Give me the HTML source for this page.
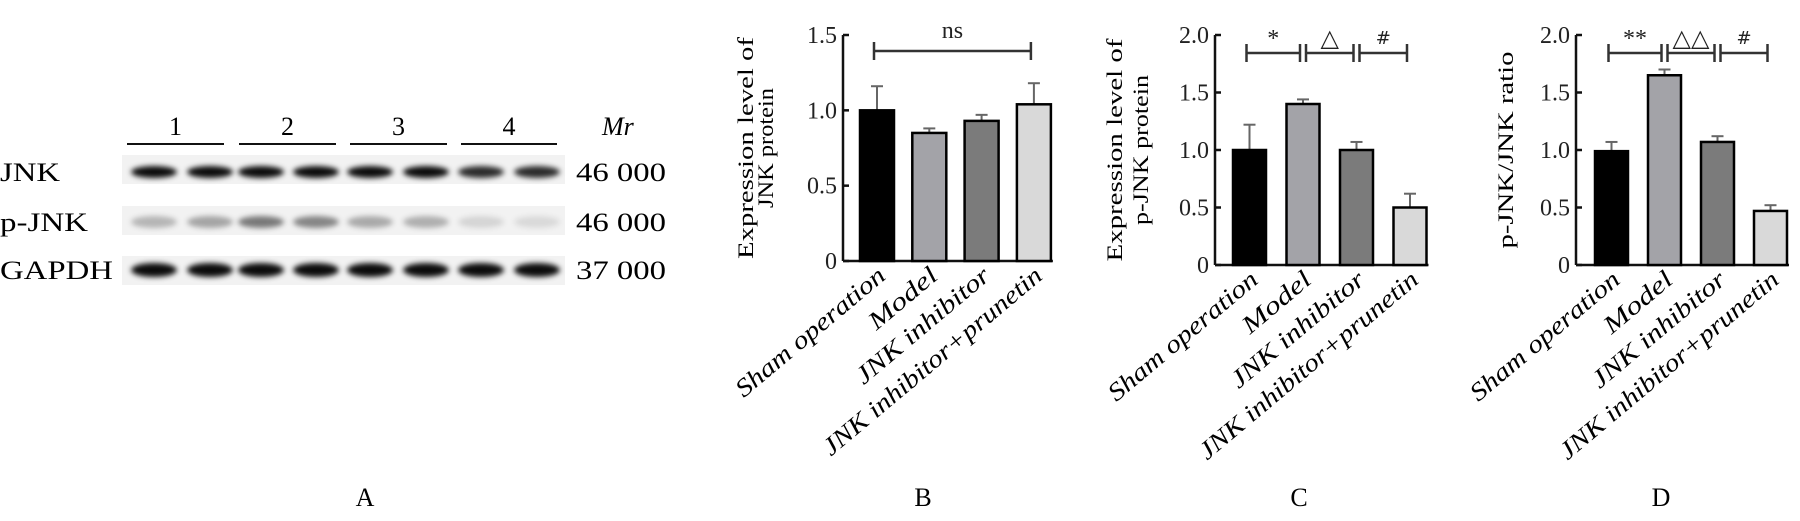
<!DOCTYPE html>
<html><head><meta charset="utf-8"><style>
html,body{margin:0;padding:0;background:#fff;}
svg{display:block;font-family:"Liberation Serif",serif;}
</style></head><body>
<svg id="fig" width="1800" height="521" viewBox="0 0 1800 521" xmlns="http://www.w3.org/2000/svg">
<defs><filter id="blur" x="-20%" y="-100%" width="140%" height="300%"><feGaussianBlur stdDeviation="2.6"/></filter></defs>
<g id="panelA"></g>
<g id="charts"></g>
<text x="365" y="506" font-size="26" text-anchor="middle">A</text>
<text x="923" y="506" font-size="26" text-anchor="middle">B</text>
<text x="1299" y="506" font-size="26" text-anchor="middle">C</text>
<text x="1661" y="506" font-size="26" text-anchor="middle">D</text>
</svg>
<script>
const categories = ["Sham operation","Model","JNK inhibitor","JNK inhibitor+prunetin"];
const bValues = [1.00, 0.85, 0.93, 1.04];
const bErrors = [1.16, 0.88, 0.97, 1.18];
const cValues = [1.00, 1.40, 1.00, 0.50];
const cErrors = [1.22, 1.44, 1.07, 0.62];
const dValues = [0.99, 1.65, 1.07, 0.47];
const dErrors = [1.07, 1.70, 1.12, 0.52];
const bTicks = ["0","0.5","1.0","1.5"];
const cdTicks = ["0","0.5","1.0","1.5","2.0"];
const bTickVals = [0,0.5,1.0,1.5];
const cdTickVals = [0,0.5,1.0,1.5,2.0];
const pIntensity = [0.25,0.32,0.5,0.45,0.3,0.28,0.12,0.1];

const NS="http://www.w3.org/2000/svg";
function mk(tag, attrs, parent, txt){const e=document.createElementNS(NS,tag);for(const k in attrs)e.setAttribute(k,attrs[k]);if(txt!==undefined)e.textContent=txt;parent.appendChild(e);return e;}
const colors=["#000","#a3a3a8","#7b7b7b","#d9d9d9"];
const labelLens=[187,82,167,278];

/* Panel A */
const A=document.getElementById('panelA');
const rows=[{n:"JNK",y:172,top:156,mw:"46 000"},{n:"p-JNK",y:222,top:207,mw:"46 000"},{n:"GAPDH",y:270,top:257,mw:"37 000"}];
const laneX=[154,210,261,316,370,426,481,537];
const groupSeg=[[127,224],[239,336],[350,447],[461,557]];
groupSeg.forEach((s,i)=>{
  const l=mk('line',{x1:s[0],x2:s[1],y1:144,y2:144,stroke:'#111','stroke-width':2},A);
  
  
  const t=mk('text',{x:(s[0]+s[1])/2,y:135,'font-size':26,'text-anchor':'middle'},A,String(i+1));
  
  
});
const mr=mk('text',{x:602,y:135,'font-size':26,'font-style':'italic'},A,"Mr");


rows.forEach((r,ri)=>{
  const t=mk('text',{x:0,y:r.y+9,'font-size':26,textLength:r.n==="GAPDH"?113:(r.n==="JNK"?60:88),lengthAdjust:'spacingAndGlyphs'},A,r.n);
  
  
  const m=mk('text',{x:576,y:r.y+9,'font-size':26,textLength:90,lengthAdjust:'spacingAndGlyphs'},A,r.mw);
  
  
  const bg=mk('rect',{x:122,y:r.top-1,width:443,height:29,fill:'#f2f2f2'},A);
  
  
  laneX.forEach((x,li)=>{
    let op = ri===1 ? pIntensity[li] : (li>=6 && ri===0 ? 0.82 : 0.95);
    const e=mk('ellipse',{cx:x,cy:r.y,rx:23,ry:ri===2?7:6,fill:'#000','fill-opacity':op,filter:'url(#blur)'},A);
    
    
  });
});

/* Charts */
const C=document.getElementById('charts');
const panels=[
 {key:'b',ax:843,y0:261,yTop:35,max:1.5,vals:bValues,errs:bErrors,ticks:bTicks,tv:bTickVals,off:17,step:52.3,w:34,
  title:["Expression level of","JNK protein"],tx:[746,766],tlen:[222,120],
  brackets:[{i:0,j:3,s:"ns",sy:38}]},
 {key:'c',ax:1215,y0:265,yTop:35,max:2.0,vals:cValues,errs:cErrors,ticks:cdTicks,tv:cdTickVals,off:18,step:53.5,w:33,
  title:["Expression level of","p-JNK protein"],tx:[1115,1141],tlen:[223,150],
  brackets:[{i:0,j:1,s:"*",sy:46},{i:1,j:2,s:"△",sy:46},{i:2,j:3,s:"#",sy:44}]},
 {key:'d',ax:1576,y0:265,yTop:35,max:2.0,vals:dValues,errs:dErrors,ticks:cdTicks,tv:cdTickVals,off:19,step:53,w:33,
  title:["p-JNK/JNK ratio"],tx:[1506],tlen:[197],
  brackets:[{i:0,j:1,s:"**",sy:46},{i:1,j:2,s:"△△",sy:46},{i:2,j:3,s:"#",sy:44}]}
];
panels.forEach(p=>{
  const g=mk('g',{},C);
  
  
  const yS=v=>p.y0-(v/p.max)*(p.y0-p.yTop);
  const xL=i=>p.ax+p.off+i*p.step;
  const xC=i=>xL(i)+p.w/2;
  const right=xL(3)+p.w+2;
  const ya=mk('line',{x1:p.ax,x2:p.ax,y1:p.yTop,y2:p.y0,stroke:'#111','stroke-width':2.5},g);
  
  
  const xa=mk('line',{x1:p.ax,x2:right,y1:p.y0,y2:p.y0,stroke:'#111','stroke-width':2.5},g);
  
  
  p.tv.forEach((v,k)=>{
    const tk=mk('line',{x1:p.ax,x2:p.ax+6,y1:yS(v),y2:yS(v),stroke:'#111','stroke-width':2.5},g);
    
    
    const lb=mk('text',{x:p.ax-6,y:yS(v)+8,'font-size':24,'text-anchor':'end',fill:'#222'},g,p.ticks[k]);
    
    
  });
  const cy=(p.y0+p.yTop)/2;
  p.title.forEach((t,k)=>{
    const tt=mk('text',{x:p.tx[k],y:cy,'font-size':22,'text-anchor':'middle',transform:`rotate(-90 ${p.tx[k]} ${cy})`,textLength:p.tlen[k],lengthAdjust:'spacingAndGlyphs',dy:7},g,t);
    
    
  });
  p.vals.forEach((v,i)=>{
    const e=mk('line',{x1:xC(i),x2:xC(i),y1:yS(v),y2:yS(p.errs[i]),stroke:'#666','stroke-width':2},g);
    
    
    const cap=mk('line',{x1:xC(i)-6,x2:xC(i)+6,y1:yS(p.errs[i]),y2:yS(p.errs[i]),stroke:'#666','stroke-width':2},g);
    
    
    const b=mk('rect',{x:xL(i),y:yS(v),width:p.w,height:p.y0-yS(v),fill:colors[i],stroke:'#000','stroke-width':2.5},g);
    
    
    const ex=xC(i)+10, ey=p.y0+17;
    const lt=mk('text',{x:ex,y:ey,'font-size':25,'font-style':'italic','text-anchor':'end',transform:`rotate(-40 ${ex} ${ey})`,textLength:labelLens[i],lengthAdjust:'spacingAndGlyphs'},g,categories[i]);
    
    
  });
  p.brackets.forEach(br=>{
    const by=p.key==='b'?51:53;
    const x1=xC(br.i)+(br.i>0?3:-3), x2=xC(br.j)-3;
    const gg=mk('g',{stroke:'#333','stroke-width':2.5},g);
    
    
    mk('line',{x1:x1,x2:x2,y1:by,y2:by},gg);
    mk('line',{x1:x1,x2:x1,y1:by-9,y2:by+9},gg);
    mk('line',{x1:x2,x2:x2,y1:by-9,y2:by+9},gg);
    const st=mk('text',{x:(x1+x2)/2,y:br.sy,'font-size':br.s==="#"?18:24,'text-anchor':'middle',fill:'#222',"font-family":"DejaVu Sans, Liberation Serif, sans-serif"},g,br.s);
    if(br.s==="ns"||br.s==="*"||br.s==="**") st.setAttribute('font-family','Liberation Serif, serif');
    
    
  });
});
</script>
</body></html>
